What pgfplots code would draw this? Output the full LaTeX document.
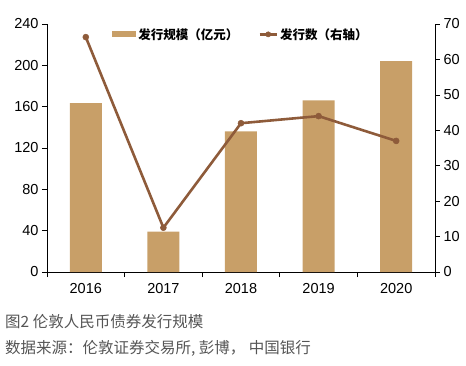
\documentclass[border=0pt]{standalone}
\usepackage{pgfplots}
\pgfplotsset{compat=1.18}
\usepackage{fontspec}
\setmainfont{Liberation Sans}
\newfontfamily\cjk{Noto Sans CJK SC}
\definecolor{barc}{HTML}{C89F68}
\definecolor{linec}{HTML}{8E5B3A}
\definecolor{capc}{HTML}{555555}
\begin{document}
\begin{tikzpicture}
\useasboundingbox (-47pt,-93pt) rectangle (419pt,272pt);
\begin{axis}[
  name=main,
  scale only axis, width=388pt, height=248pt,
  xmin=-0.5, xmax=4.5, ymin=0, ymax=240,
  axis x line*=bottom, axis y line*=left,
  axis line style={black, line width=0.8pt},
  xtick={0,1,2,3,4},
  xticklabels={2016,2017,2018,2019,2020},
  major x tick style={draw=none},
  minor xtick={-0.5,0.5,1.5,2.5,3.5,4.5},
  minor tick length=5pt,
  minor x tick style={black, line width=0.6pt},
  ytick={0,40,80,120,160,200,240},
  tick align=outside, major tick length=5pt,
  ytick style={black, line width=0.6pt},
  every tick label/.style={font=\fontsize{14.5}{14.5}\selectfont, text=black},
  xticklabel style={yshift=-3pt},
  /pgf/number format/assume math mode=true,
  legend style={draw=none, fill=none, at={(0.5,1)}, anchor=north, legend columns=2,
    font=\cjk\bfseries\fontsize{12.5}{13}\selectfont, /tikz/every even column/.append style={column sep=18pt}},
  legend cell align=left,
  clip=false,
]
\addplot[ybar, bar width=32pt, fill=barc, draw=none, bar shift=0pt,
  legend image code/.code={\fill[barc] (0pt,-3pt) rectangle (24pt,3pt);}]
  coordinates {(0,163.5) (1,39) (2,136) (3,166) (4,204)};
\addlegendentry{发行规模（亿元）}
\addlegendimage{linec, line width=2.6pt, mark=*, mark size=2.6pt, mark options={fill=linec, line width=0.5pt}}
\addlegendentry{发行数（右轴）}
\end{axis}
\begin{axis}[
  at={(main.south west)}, anchor=south west,
  scale only axis, width=388pt, height=248pt,
  xmin=-0.5, xmax=4.5, ymin=0, ymax=70,
  axis x line=none, axis y line*=right,
  axis line style={black, line width=0.8pt},
  ytick={0,10,20,30,40,50,60,70},
  tick align=outside, major tick length=5pt,
  ytick style={black, line width=0.6pt},
  every tick label/.style={font=\fontsize{14.5}{14.5}\selectfont, text=black},
  /pgf/number format/assume math mode=true,
  clip=false,
]
\addplot[linec, line width=2.6pt, mark=*, mark size=3pt, mark options={fill=linec, line width=0.5pt}]
  coordinates {(0,66.3) (1,12.5) (2,42) (3,44) (4,37)};
\end{axis}
\node[anchor=base west, text=capc, font=\cjk\fontsize{15.5}{15.5}\selectfont, inner sep=0pt] at (-42pt,-55pt) {图2 伦敦人民币债券发行规模};
\node[anchor=base west, text=capc, font=\cjk\fontsize{15.5}{15.5}\selectfont, inner sep=0pt] at (-42pt,-81pt) {数据来源：伦敦证券交易所, 彭博，\ 中国银行};
\end{tikzpicture}
\end{document}
